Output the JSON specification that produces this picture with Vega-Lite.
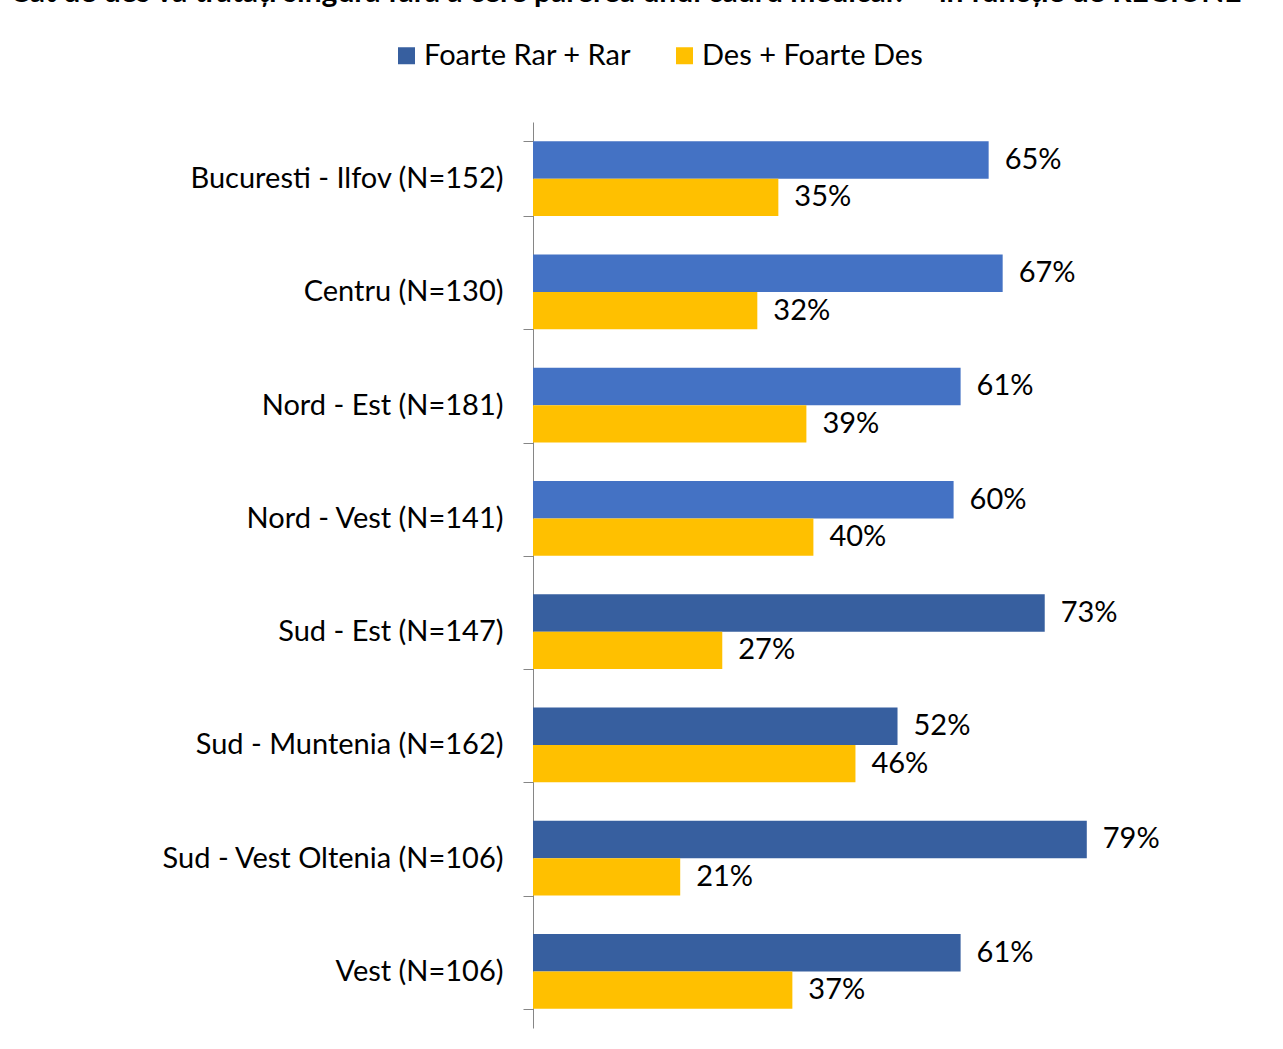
{
  "$schema": "https://vega.github.io/schema/vega-lite/v6.json",
  "autosize": {"type": "none"},
  "width": 701,
  "height": 906,
  "padding": {"left": 533, "top": 122, "right": 49, "bottom": 21},
  "background": "white",
  "title": {
    "text": "Cât de des vă tratați singură fără a cere părerea unui cadru medical? – în funcție de REGIUNE",
    "anchor": "start",
    "frame": "group",
    "font": "Lato",
    "fontWeight": "bold",
    "fontSize": 30,
    "color": "#000000",
    "dx": -523,
    "dy": -29
  },
  "data": {
    "values": [
      {"region": "Bucuresti - Ilfov (N=152)", "series": "Foarte Rar + Rar", "value": 0.65},
      {"region": "Bucuresti - Ilfov (N=152)", "series": "Des + Foarte Des", "value": 0.35},
      {"region": "Centru (N=130)", "series": "Foarte Rar + Rar", "value": 0.67},
      {"region": "Centru (N=130)", "series": "Des + Foarte Des", "value": 0.32},
      {"region": "Nord - Est (N=181)", "series": "Foarte Rar + Rar", "value": 0.61},
      {"region": "Nord - Est (N=181)", "series": "Des + Foarte Des", "value": 0.39},
      {"region": "Nord - Vest (N=141)", "series": "Foarte Rar + Rar", "value": 0.60},
      {"region": "Nord - Vest (N=141)", "series": "Des + Foarte Des", "value": 0.40},
      {"region": "Sud - Est (N=147)", "series": "Foarte Rar + Rar", "value": 0.73},
      {"region": "Sud - Est (N=147)", "series": "Des + Foarte Des", "value": 0.27},
      {"region": "Sud - Muntenia (N=162)", "series": "Foarte Rar + Rar", "value": 0.52},
      {"region": "Sud - Muntenia (N=162)", "series": "Des + Foarte Des", "value": 0.46},
      {"region": "Sud - Vest Oltenia (N=106)", "series": "Foarte Rar + Rar", "value": 0.79},
      {"region": "Sud - Vest Oltenia (N=106)", "series": "Des + Foarte Des", "value": 0.21},
      {"region": "Vest (N=106)", "series": "Foarte Rar + Rar", "value": 0.61},
      {"region": "Vest (N=106)", "series": "Des + Foarte Des", "value": 0.37}
    ]
  },
  "encoding": {
    "y": {
      "field": "region",
      "type": "nominal",
      "sort": null,
      "scale": {"paddingInner": 0.338, "paddingOuter": 0.169},
      "axis": {
        "title": null,
        "tickBand": "extent",
        "tickSize": 10,
        "tickColor": "#868686",
        "domainColor": "#868686",
        "labelFont": "Lato",
        "labelFontSize": 29,
        "labelColor": "#000000",
        "labelPadding": 20,
        "labelLimit": 500
      }
    },
    "yOffset": {"field": "series", "type": "nominal", "sort": ["Foarte Rar + Rar", "Des + Foarte Des"], "scale": {"paddingInner": 0, "paddingOuter": 0}},
    "x": {
      "field": "value",
      "type": "quantitative",
      "scale": {"domain": [0, 1], "nice": false},
      "axis": null
    }
  },
  "layer": [
    {
      "mark": {"type": "bar"},
      "encoding": {
        "color": {
          "condition": {
            "test": "datum.series === 'Foarte Rar + Rar' && indexof(['Bucuresti - Ilfov (N=152)','Centru (N=130)','Nord - Est (N=181)','Nord - Vest (N=141)'], datum.region) >= 0",
            "value": "#4472C4"
          },
          "field": "series",
          "type": "nominal",
          "sort": ["Foarte Rar + Rar", "Des + Foarte Des"],
          "scale": {"domain": ["Foarte Rar + Rar", "Des + Foarte Des"], "range": ["#375F9F", "#FFC000"]},
          "legend": {
            "title": null,
            "orient": "none",
            "direction": "horizontal",
            "legendX": -141,
            "legendY": -81,
            "symbolType": "square",
            "symbolSize": 289,
            "symbolStrokeWidth": 0,
            "labelFont": "Lato",
            "labelFontSize": 29,
            "labelColor": "#000000",
            "labelLimit": 400,
            "columnPadding": 38,
            "labelOffset": 3
          }
        }
      }
    },
    {
      "mark": {"type": "text", "align": "left", "baseline": "middle", "dx": 16, "font": "Lato", "fontSize": 29, "color": "#000000"},
      "encoding": {
        "text": {"field": "value", "type": "quantitative", "format": ".0%"},
        "detail": {"field": "series"}
      }
    }
  ],
  "config": {"view": {"stroke": null}}
}
